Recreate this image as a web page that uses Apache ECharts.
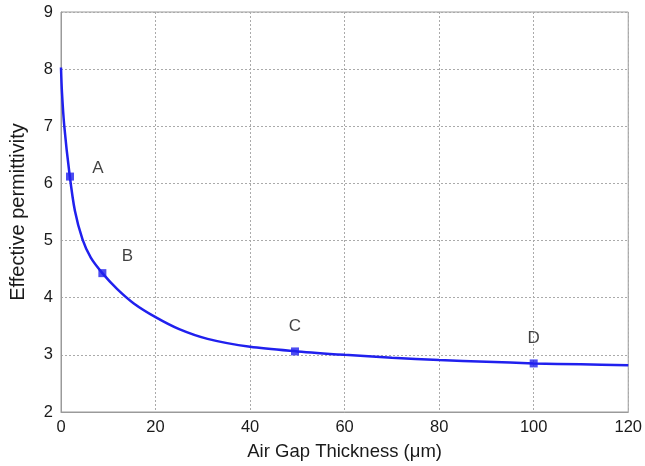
<!DOCTYPE html>
<html>
<head>
<meta charset="utf-8">
<script src="https://cdn.jsdelivr.net/npm/echarts@6/dist/echarts.min.js"></script>
<style>
html,body{margin:0;padding:0;background:#fff;}
#c{width:645px;height:466px;}
</style>
</head>
<body>
<div id="c"></div>
<script>
// Curve
const gapX = [0, 0.2, 0.7, 1.75, 2.94, 4.55, 6.3, 8.75, 11.9, 15.4, 20, 25, 31, 40, 50, 60, 70, 80, 90, 100, 110, 120];
const permY = [8.03, 7.6, 7.0, 6.2, 5.52, 5.02, 4.7, 4.43, 4.15, 3.9, 3.66, 3.45, 3.28, 3.14, 3.06, 3.0, 2.95, 2.91, 2.88, 2.85, 2.835, 2.82];
// Marked points
const markNames = ['A', 'B', 'C', 'D'];
const markX = [1.9, 8.75, 49.5, 100];
const markY = [6.12, 4.43, 3.06, 2.85];
const xTicks = [0, 20, 40, 60, 80, 100, 120];
const yTicks = [2, 3, 4, 5, 6, 7, 8, 9];

const labelOffsets = {A: [28, -8], B: [25, -17], C: [0, -25], D: [0, -25]};

const chart = echarts.init(document.getElementById('c'));
const font = 'Liberation Sans, Arial, sans-serif';
chart.setOption({
  animation: false,
  grid: {left: 60, right: 13, top: 12, bottom: 53, show: true, borderColor: '#9a9a9a', borderWidth: 1},
  xAxis: {
    type: 'value', min: xTicks[0], max: xTicks[xTicks.length - 1], interval: 20,
    name: 'Air Gap Thickness (μm)', nameLocation: 'middle', nameGap: 30,
    nameTextStyle: {fontFamily: font, fontSize: 18.5, color: '#1a1a1a'},
    axisLine: {show: true, lineStyle: {color: '#9a9a9a'}},
    axisTick: {show: false},
    axisLabel: {fontFamily: font, fontSize: 16.5, color: '#1a1a1a', margin: 7},
    splitLine: {show: true, lineStyle: {color: '#aaa', type: [2, 2], width: 1}}
  },
  yAxis: {
    type: 'value', min: yTicks[0], max: yTicks[yTicks.length - 1], interval: 1,
    name: 'Effective permittivity', nameLocation: 'middle', nameGap: 33,
    nameTextStyle: {fontFamily: font, fontSize: 20, color: '#1a1a1a'},
    axisLine: {show: true, lineStyle: {color: '#9a9a9a'}},
    axisTick: {show: false},
    axisLabel: {fontFamily: font, fontSize: 16.5, color: '#1a1a1a', margin: 8},
    splitLine: {show: true, lineStyle: {color: '#aaa', type: [2, 2], width: 1}}
  },
  series: [
    {
      type: 'line',
      data: gapX.map((x, i) => [x, permY[i]]),
      smooth: 0.3,
      showSymbol: false,
      symbol: 'none',
      lineStyle: {color: '#2020ee', width: 2.5}
    },
    {
      type: 'scatter',
      symbol: 'rect',
      symbolSize: 8,
      itemStyle: {color: '#2020ee'},
      data: markNames.map((n, i) => ({
        name: n,
        value: [markX[i], markY[i]],
        label: {show: true, formatter: n, position: 'inside', offset: labelOffsets[n],
                fontFamily: font, fontSize: 17, color: '#111'}
      })),
      z: 5
    }
  ]
});
</script>
</body>
</html>
